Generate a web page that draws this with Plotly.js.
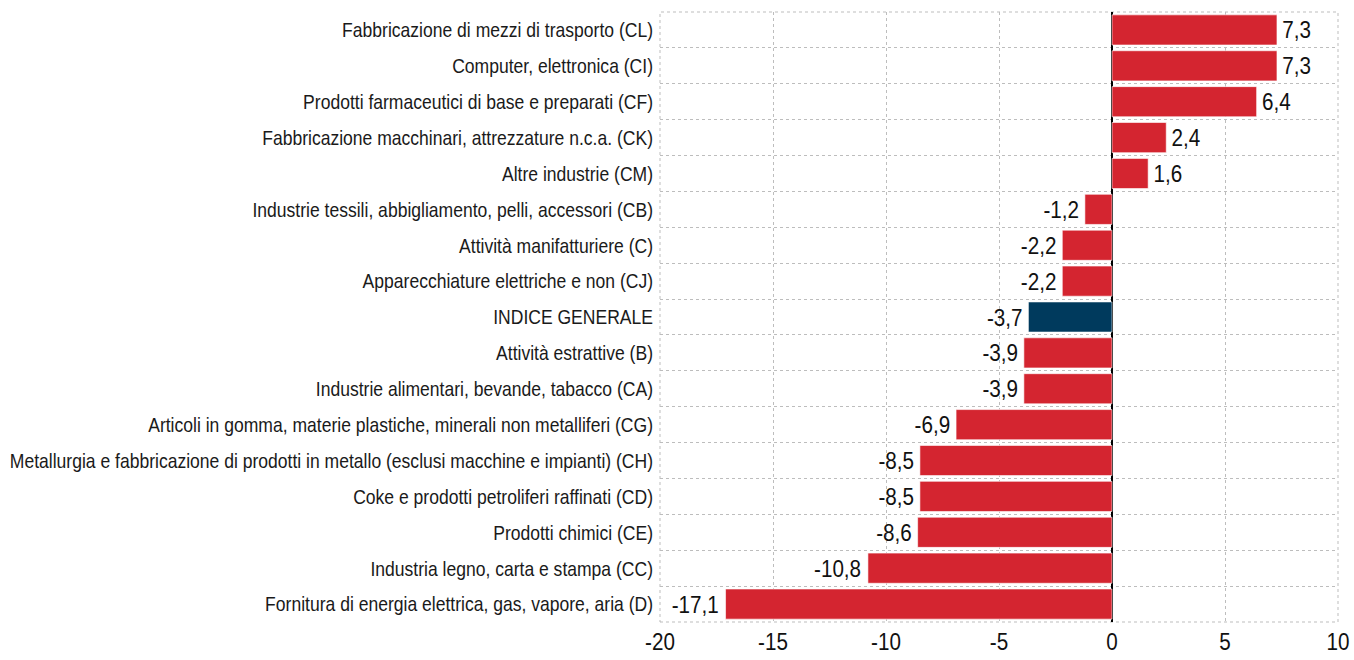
<!DOCTYPE html>
<html>
<head>
<meta charset="utf-8">
<script src="https://cdn.plot.ly/plotly-3.0.1.min.js"></script>
<style>html,body{margin:0;padding:0;background:#fff;}#chart{width:1354px;height:660px;}</style>
</head>
<body>
<div id="chart"></div>
<script>
const categories = [
  "Fabbricazione di mezzi di trasporto (CL)",
  "Computer, elettronica (CI)",
  "Prodotti farmaceutici di base e preparati (CF)",
  "Fabbricazione macchinari, attrezzature n.c.a. (CK)",
  "Altre industrie (CM)",
  "Industrie tessili, abbigliamento, pelli, accessori (CB)",
  "Attività manifatturiere (C)",
  "Apparecchiature elettriche e non (CJ)",
  "INDICE GENERALE",
  "Attività estrattive (B)",
  "Industrie alimentari, bevande, tabacco (CA)",
  "Articoli in gomma, materie plastiche, minerali non metalliferi (CG)",
  "Metallurgia e fabbricazione di prodotti in metallo (esclusi macchine e impianti) (CH)",
  "Coke e prodotti petroliferi raffinati (CD)",
  "Prodotti chimici (CE)",
  "Industria legno, carta e stampa (CC)",
  "Fornitura di energia elettrica, gas, vapore, aria (D)"
];
const values = [7.3, 7.3, 6.4, 2.4, 1.6, -1.2, -2.2, -2.2, -3.7, -3.9, -3.9, -6.9, -8.5, -8.5, -8.6, -10.8, -17.1];
const highlight = "INDICE GENERALE";
const xTicks = [-20, -15, -10, -5, 0, 5, 10];

const FONT = "'Liberation Sans', Arial, sans-serif";
const colors = categories.map(c => c === highlight ? "#003a5d" : "#d42530");
const labels = values.map(v => v.toFixed(1).replace(".", ","));

const trace = {
  type: "bar",
  orientation: "h",
  y: categories,
  x: values,
  marker: {color: colors, line: {color: "rgba(255,255,255,0.6)", width: 1}},
  text: labels,
  textposition: "outside",
  textfont: {family: FONT, size: 24, color: "#111"},
  cliponaxis: false,
  hoverinfo: "skip"
};

const layout = {
  width: 1354, height: 660,
  margin: {l: 660, r: 16, t: 12, b: 38},
  paper_bgcolor: "#fff", plot_bgcolor: "#fff",
  showlegend: false,
  bargap: 0.16,
  separators: ",.",
  font: {family: FONT, color: "#111"},
  xaxis: {
    range: [-20, 10],
    tickvals: xTicks,
    ticktext: xTicks.map(String),
    tickfont: {family: FONT, size: 24, color: "#111"},
    showgrid: true, gridcolor: "#bdbdbd", griddash: "dot", gridwidth: 1,
    zeroline: true, zerolinecolor: "#000", zerolinewidth: 2,
    showline: false, ticks: "", ticklabelstandoff: 3
  },
  yaxis: {
    type: "category",
    autorange: "reversed",
    tickson: "boundaries",
    tickfont: {family: FONT, size: 21, color: "#1a1a1a"},
    showgrid: true, gridcolor: "#bdbdbd", griddash: "dot", gridwidth: 1,
    showline: false, ticks: "", ticklen: 0, ticklabelstandoff: 6
  },
  shapes: [
    {type: "rect", xref: "paper", yref: "paper", x0: 0, x1: 1, y0: 0, y1: 1,
     line: {color: "#bdbdbd", width: 1, dash: "dot"}, layer: "below"}
  ]
};

// condense glyphs horizontally (narrow typeface look)
function condenseAll(selector, factor) {
  document.querySelectorAll(selector).forEach(el => {
    const w = el.getComputedTextLength();
    if (w > 0) {
      el.setAttribute("textLength", (w * factor).toFixed(1));
      el.setAttribute("lengthAdjust", "spacingAndGlyphs");
    }
  });
}

Plotly.newPlot("chart", [trace], layout, {displayModeBar: false, staticPlot: true}).then(() => {
  condenseAll("#chart .ytick text", 0.835);
  condenseAll("#chart .xtick text, #chart .bartext", 0.86);
});
</script>
</body>
</html>
